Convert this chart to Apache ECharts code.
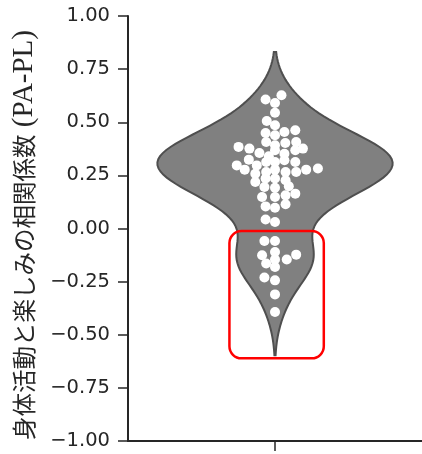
<!DOCTYPE html>
<html>
<head>
<meta charset="utf-8">
<script src="https://cdn.jsdelivr.net/npm/echarts@6/dist/echarts.min.js"></script>
<style>html,body{margin:0;padding:0;background:#fff}#c{width:422px;height:454px}</style>
</head>
<body>
<div id="c"></div>
<script>
// Correlation values (y)
const swarmY = [
  0.607, 0.627, 0.591, 0.545, 0.506, 0.486, 0.449, 0.439, 0.454, 0.462,
  0.407, 0.392, 0.402, 0.407, 0.384, 0.376, 0.355, 0.340, 0.368, 0.352,
  0.368, 0.376, 0.297, 0.324, 0.297, 0.313, 0.313, 0.321, 0.313, 0.277,
  0.258, 0.266, 0.277, 0.266, 0.266, 0.277, 0.282, 0.219, 0.235, 0.235,
  0.227, 0.195, 0.192, 0.199, 0.164, 0.156, 0.148, 0.148, 0.104, 0.098,
  0.114, 0.042, 0.031,
  -0.059, -0.059, -0.111, -0.126, -0.123, -0.146, -0.146, -0.165, -0.181,
  -0.231, -0.244, -0.310, -0.393
];
// Swarm horizontal offsets (category units)
const swarmX = [
  -0.032, 0.022, 0, 0, -0.028, 0, -0.032, 0, 0.032, 0.069,
  -0.030, 0, 0.035, 0.072, -0.124, -0.087, -0.053, -0.021, 0, 0.032,
  0.069, 0.095, -0.130, -0.089, -0.062, -0.030, 0, 0.032, 0.069, -0.103,
  -0.067, -0.030, 0, 0.036, 0.072, 0.106, 0.146, -0.067, -0.032, 0,
  0.036, -0.036, 0, 0.047, 0.069, 0.036, 0, -0.044, -0.032, 0,
  0.036, -0.032, 0,
  -0.036, 0, 0, -0.044, 0.072, 0.040, 0, -0.030, 0,
  -0.036, 0, 0, 0
];
const yTicks = [-1, -0.75, -0.5, -0.25, 0, 0.25, 0.5, 0.75, 1];
const highlightX = [-0.155, 0.166];
const highlightY = [-0.611, -0.012];
const yTitleJa = '身体活動と楽しみの相関係数';
const yTitleLatin = ' (PA-PL)';

// Gaussian KDE (Scott's rule, cut = 2) like seaborn's violinplot
function violinOutline(vals) {
  const n = vals.length;
  const mean = vals.reduce((a, b) => a + b, 0) / n;
  const sd = Math.sqrt(vals.reduce((a, b) => a + (b - mean) * (b - mean), 0) / (n - 1));
  const bw = sd * Math.pow(n, -0.2);
  const lo = Math.min(...vals) - 2 * bw, hi = Math.max(...vals) + 2 * bw;
  const grid = 100, ys = [], ds = [];
  for (let i = 0; i < grid; i++) {
    const y = lo + (hi - lo) * i / (grid - 1);
    let d = 0;
    for (const v of vals) d += Math.exp(-0.5 * ((y - v) / bw) ** 2);
    ys.push(y); ds.push(d / (n * bw * Math.sqrt(2 * Math.PI)));
  }
  const mx = Math.max(...ds);
  const pts = [];
  for (let i = 0; i < grid; i++) pts.push([ds[i] / mx * 0.4, ys[i]]);
  for (let i = grid - 1; i >= 0; i--) pts.push([-ds[i] / mx * 0.4, ys[i]]);
  return pts;
}
const outline = violinOutline(swarmY);

const chart = echarts.init(document.getElementById('c'), null, {renderer: 'canvas'});
const axisColor = '#262626';
chart.setOption({
  animation: false,
  grid: {left: 128, right: 0, top: 16, bottom: 13},
  xAxis: {
    type: 'value', min: -0.5, max: 0.5,
    axisLine: {show: true, onZero: false, lineStyle: {color: axisColor, width: 2}},
    axisTick: {show: true, inside: false, length: 10, customValues: [0], lineStyle: {color: axisColor, width: 1.5}},
    axisLabel: {show: false},
    splitLine: {show: false}
  },
  yAxis: {
    type: 'value', min: -1, max: 1, interval: 0.25,
    name: '{ja|' + yTitleJa + '}{la|' + yTitleLatin + '}',
    nameLocation: 'middle', nameGap: 89, nameRotate: 90,
    nameTextStyle: {
      color: axisColor, padding: [0, 13, 0, 0],
      rich: {
        ja: {fontFamily: "'Noto Sans CJK JP'", fontSize: 23.5, color: axisColor},
        la: {fontFamily: "'Liberation Serif'", fontSize: 29, color: axisColor}
      }
    },
    axisLine: {show: true, onZero: false, lineStyle: {color: axisColor, width: 2}},
    axisTick: {show: true, inside: false, length: 10, lineStyle: {color: axisColor, width: 1.5}},
    axisLabel: {
      margin: 18, fontSize: 19.5, fontFamily: 'DejaVu Sans', color: axisColor,
      customValues: yTicks,
      formatter: v => (v < 0 ? '\u2212' : '') + Math.abs(v).toFixed(2)
    },
    splitLine: {show: false}
  },
  series: [
    {
      type: 'custom', z: 1, silent: true,
      data: [[0, 0]],
      renderItem: (params, api) => ({
        type: 'polygon',
        shape: {points: outline.map(p => api.coord(p))},
        style: {fill: '#808080', stroke: '#4f4f4f', lineWidth: 2}
      })
    },
    {
      type: 'scatter', z: 2, silent: true,
      symbolSize: 10,
      itemStyle: {color: '#ffffff', opacity: 1},
      data: swarmY.map((y, i) => [swarmX[i], y])
    },
    {
      type: 'custom', z: 3, silent: true,
      data: [[0, 0]],
      renderItem: (params, api) => {
        const a = api.coord([highlightX[0], highlightY[1]]);
        const b = api.coord([highlightX[1], highlightY[0]]);
        return {
          type: 'rect',
          shape: {x: a[0], y: a[1], width: b[0] - a[0], height: b[1] - a[1], r: 12},
          style: {fill: 'none', stroke: '#ff0000', lineWidth: 2.5}
        };
      }
    }
  ]
});
</script>
</body>
</html>
